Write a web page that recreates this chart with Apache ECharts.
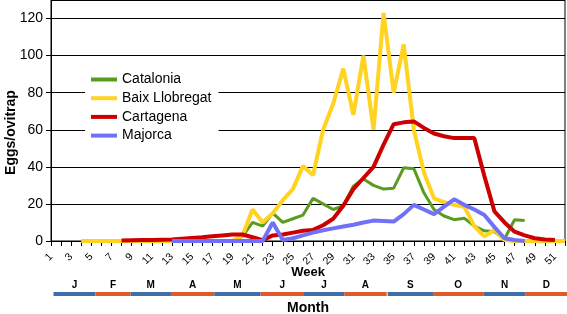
<!DOCTYPE html>
<html>
<head>
<meta charset="utf-8">
<script src="https://cdn.jsdelivr.net/npm/echarts@6/dist/echarts.min.js"></script>
<style>
  html, body { margin: 0; padding: 0; background: #fff; }
  #chart { width: 567px; height: 314px; }
</style>
</head>
<body>
<div id="chart"></div>
<script>
var weeks = ['1','2','3','4','5','6','7','8','9','10','11','12','13','14','15','16','17','18','19','20',
  '21','22','23','24','25','26','27','28','29','30','31','32','33','34','35','36','37','38','39','40',
  '41','42','43','44','45','46','47','48','49','50','51','52'];

// eggs per ovitrap, one value per week (null = not sampled)
var catalonia = [null,null,null,null,null,null,null,null,null,null,null,null,
  0,0,0,0,0,0,0,2.5,10,8,15,10,12,14,23,20,17,19,29.5,33.5,30,28,28.5,39.5,39,26,17,13.5,
  11.5,12.3,8,5.5,5,1.2,11.5,11,null,null,null,null];
var baixLlobregat = [null,null,null,0,0,0,0,0,0,0,0,0,0,0,0,0,0,0,0,3,
  17,10,15,22,28,40.5,35.5,60,74,93,68,100,60,123,80,106,60,37,23,21,
  19.5,18.5,8,2.5,6,0.5,0,0,0,0,0,0];
var cartagena = [null,null,null,null,null,null,null,0.3,0.4,0.5,0.6,0.7,0.8,1.2,1.6,2,2.5,3,3.5,3.5,
  2,0.5,3,3.5,4.5,5.5,6,8.5,12,19,28,34,40,52,63,64,64.5,61,58,56.5,
  55.5,55.5,55.5,35,16,10,5,3,1.5,0.8,0.5,null];
var majorca = [null,null,null,null,null,null,null,null,null,null,null,null,
  0,0,0,0,0,0,0,0,0,0,10,0.5,1.5,3,4.5,5.8,6.8,7.8,8.8,10,11,10.8,10.5,14.5,19.5,17,14.5,18.5,
  22.5,19.5,17,14,7.5,1.5,0.5,0,null,null,null,null];

// month strip below the axis (positions in week units, as drawn in the figure)
var months = ['J','F','M','A','M','J','J','A','S','O','N','D'];
var monthStart = [1.25, 5.4, 8.9, 12.9, 17.2, 21.8, 26.1, 30.1, 34.4, 38.9, 43.9, 48.1];
var monthEnd = [5.4, 8.9, 12.9, 17.2, 21.8, 26.1, 30.1, 34.3, 38.9, 43.9, 48.1, 52.2];

var font = 'Liberation Sans, Arial, sans-serif';
var monthData = monthStart.map(function (s, i) { return [s, monthEnd[i]]; });

function lineSeries(name, data, color, width) {
  return {
    name: name,
    type: 'line',
    data: data,
    showSymbol: false,
    symbol: 'none',
    itemStyle: { color: color },
    lineStyle: { color: color, width: width },
    xAxisIndex: 0,
    yAxisIndex: 0
  };
}

var chart = echarts.init(document.getElementById('chart'));
chart.setOption({
  animation: false,
  textStyle: { fontFamily: font },
  grid: [
    { left: 51, right: 2, top: 0, height: 241, show: true, borderColor: '#000', borderWidth: 1,
      containLabel: false, outerBoundsMode: 'none' },
    { left: 51, right: 2, top: 290, height: 8, containLabel: false, outerBoundsMode: 'none' }
  ],
  legend: {
    orient: 'vertical',
    left: 85,
    top: 64.5,
    backgroundColor: '#fff',
    padding: [8, 7, 8, 6],
    icon: 'rect',
    itemWidth: 26,
    itemHeight: 4,
    itemGap: 4.7,
    textStyle: { fontSize: 14, color: '#000', fontFamily: font },
    data: ['Catalonia', 'Baix Llobregat', 'Cartagena', 'Majorca']
  },
  xAxis: [
    {
      type: 'category',
      gridIndex: 0,
      data: weeks,
      boundaryGap: false,
      axisLine: { lineStyle: { color: '#000', width: 1 } },
      axisTick: { interval: 0, length: 5, lineStyle: { color: '#000' } },
      axisLabel: { interval: 1, rotate: 45, fontSize: 10.5, color: '#000', margin: 14, fontFamily: font,
        hideOverlap: false },
      name: 'Week',
      nameLocation: 'middle',
      nameGap: 25,
      nameMoveOverlap: false,
      nameTextStyle: { fontSize: 13, fontWeight: 'bold', color: '#000', fontFamily: font }
    },
    {
      type: 'value',
      gridIndex: 1,
      min: 1,
      max: 52,
      axisLine: { show: false, onZero: false },
      axisTick: { show: false },
      axisLabel: { show: false },
      splitLine: { show: false },
      name: 'Month',
      nameLocation: 'middle',
      nameGap: 3,
      nameMoveOverlap: false,
      nameTextStyle: { fontSize: 14, fontWeight: 'bold', color: '#000', fontFamily: font }
    }
  ],
  yAxis: [
    {
      type: 'value',
      gridIndex: 0,
      min: 0,
      max: 130,
      interval: 20,
      axisLine: { show: true, lineStyle: { color: '#000', width: 1 } },
      axisTick: { show: true, length: 5, lineStyle: { color: '#000' } },
      axisLabel: { fontSize: 14, color: '#000', margin: 8, showMaxLabel: false, fontFamily: font },
      splitLine: { lineStyle: { color: '#000', width: 1 } },
      name: 'Eggs/ovitrap',
      nameLocation: 'middle',
      nameGap: 33,
      nameMoveOverlap: false,
      nameTextStyle: { fontSize: 14, fontWeight: 'bold', color: '#000', fontFamily: font, padding: [0, 24, 0, 0] }
    },
    {
      type: 'value',
      gridIndex: 1,
      min: -1,
      max: 1,
      show: false
    }
  ],
  series: [
    lineSeries('Catalonia', catalonia, '#5B9B20', 3),
    lineSeries('Baix Llobregat', baixLlobregat, '#FFD320', 4),
    lineSeries('Cartagena', cartagena, '#CC0000', 4),
    lineSeries('Majorca', majorca, '#7070F8', 4),
    {
      type: 'custom',
      xAxisIndex: 1,
      yAxisIndex: 1,
      data: monthData,
      encode: { x: [0, 1] },
      renderItem: function (params, api) {
        var a = api.coord([api.value(0), 0]);
        var b = api.coord([api.value(1), 0]);
        var color = params.dataIndex % 2 ? '#E05A28' : '#3F6DAA';
        return {
          type: 'group',
          children: [
            { type: 'rect', shape: { x: a[0], y: a[1] - 2, width: b[0] - a[0], height: 4 }, style: { fill: color } },
            { type: 'text', style: { text: months[params.dataIndex], x: (a[0] + b[0]) / 2, y: a[1] - 4,
              align: 'center', verticalAlign: 'bottom', fill: '#000', font: 'bold 10px ' + font } }
          ]
        };
      }
    }
  ]
});
</script>
</body>
</html>
